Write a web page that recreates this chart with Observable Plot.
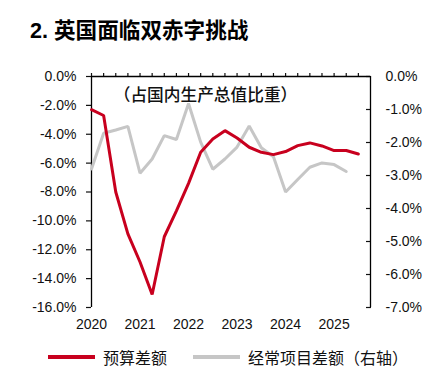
<!DOCTYPE html>
<html><head><meta charset="utf-8">
<script src="https://cdn.jsdelivr.net/npm/d3@7"></script>
<script src="https://cdn.jsdelivr.net/npm/@observablehq/plot@0.6"></script>
<style>
body{margin:0;background:#fff;width:441px;height:378px;position:relative;overflow:hidden;font-family:"Liberation Sans","Noto Sans CJK SC",sans-serif;}
#title{position:absolute;left:30px;top:20px;font-size:21.6px;line-height:21px;font-weight:bold;color:#000;white-space:nowrap;}
#chart{position:absolute;left:0;top:55px;}
#legend{position:absolute;left:0;top:348px;width:441px;height:20px;font-size:16px;color:#111;font-family:"Noto Sans CJK SC",sans-serif;}
.item{position:absolute;top:0;display:flex;align-items:center;height:18px;line-height:18px;white-space:nowrap;}
.sw{display:inline-block;width:47px;height:4px;margin-right:8px;}
</style></head>
<body>
<div id="title">2. 英国面临双赤字挑战</div>
<div id="chart"></div>
<div id="legend"></div>
<script>
// x axis labels (one per year, quarterly data starting 2020Q1)
const years = ["2020","2021","2022","2023","2024","2025"];
// Budget balance, % of GDP (left axis), quarterly
const budget = [-2.3,-2.7,-8.0,-10.9,-12.85,-15.1,-11.1,-9.3,-7.4,-5.25,-4.33,-3.75,-4.26,-4.9,-5.25,-5.41,-5.2,-4.79,-4.6,-4.81,-5.13,-5.13,-5.37];
// Current account balance, % of GDP (right axis), quarterly
const current = [-2.8,-1.72,-1.62,-1.51,-2.93,-2.5,-1.79,-1.91,-0.82,-1.99,-2.81,-2.5,-2.14,-1.5,-2.16,-2.43,-3.5,-3.12,-2.75,-2.62,-2.67,-2.88];
const leftTicks = [0,-2,-4,-6,-8,-10,-12,-14,-16];
const rightTicks = [0,-1,-2,-3,-4,-5,-6,-7];
const leftMin = -16, rightMin = -7;
const note = ["（占国内生产总值比重）"];
const seriesNames = ["预算差额","经常项目差额（右轴）"];
const colors = ["#c8001e","#c6c6c6"];

const k = leftMin / rightMin; // right->left scale factor
const budgetData = budget.map((v,i)=>({q:i, v}));
const currentData = current.map((v,i)=>({q:i, v: v*k}));
const nQ = years.length*4 - 1;

const chart = Plot.plot({
  width: 441, height: 285,
  marginTop: 21, marginBottom: 33, marginLeft: 91, marginRight: 71,
  x: {domain: [0, nQ]},
  y: {domain: [leftMin, 0]},
  style: {fontFamily: "Liberation Sans, Arial, sans-serif", fontSize: "14px", color: "#111", background: "transparent"},
  marks: [
    Plot.axisX({anchor: "top", ticks: d3.range(0, nQ), tickSize: 4, tickFormat: () => "", label: null, strokeWidth: 1.2}),
    Plot.axisX({anchor: "bottom", ticks: years.map((y,i)=>i*4), tickSize: 0, tickPadding: 12, tickFormat: d => years[d/4], label: null, fontSize: 14}),
    Plot.axisY({anchor: "left", ticks: leftTicks, tickSize: 5, tickPadding: 10, tickFormat: d => d.toFixed(1)+"%", label: null, strokeWidth: 1.2}),
    Plot.axisY({anchor: "right", ticks: rightTicks.map(v=>v*k), tickSize: 5, dx: -5, tickPadding: 15, tickFormat: d => (Math.round(d/k*10)/10).toFixed(1).replace("-0.0","0.0")+"%", label: null, strokeWidth: 1.2}),
    Plot.ruleX([0, nQ], {stroke: "#000", strokeWidth: 1.3}),
    Plot.ruleY([0], {stroke: "#000", strokeWidth: 1.3}),
    Plot.line(currentData, {x: "q", y: "v", stroke: colors[1], strokeWidth: 3, strokeLinejoin: "miter"}),
    Plot.line(budgetData, {x: "q", y: "v", stroke: colors[0], strokeWidth: 3, strokeLinejoin: "miter"}),
    Plot.text(note, {x: () => 9.4, y: () => -1.35, text: d => d, fontSize: 16.7, fontWeight: 500, fontFamily: "Noto Sans CJK SC", fill: "#111"})
  ]
});
document.getElementById("chart").appendChild(chart);

const lg = document.getElementById("legend");
const lefts = [48, 193];
seriesNames.forEach((n,i)=>{
  const it = document.createElement("div");
  it.className = "item";
  it.style.left = lefts[i]+"px";
  it.innerHTML = `<span class="sw" style="background:${colors[i]}"></span><span>${n}</span>`;
  lg.appendChild(it);
});
</script>
</body></html>
